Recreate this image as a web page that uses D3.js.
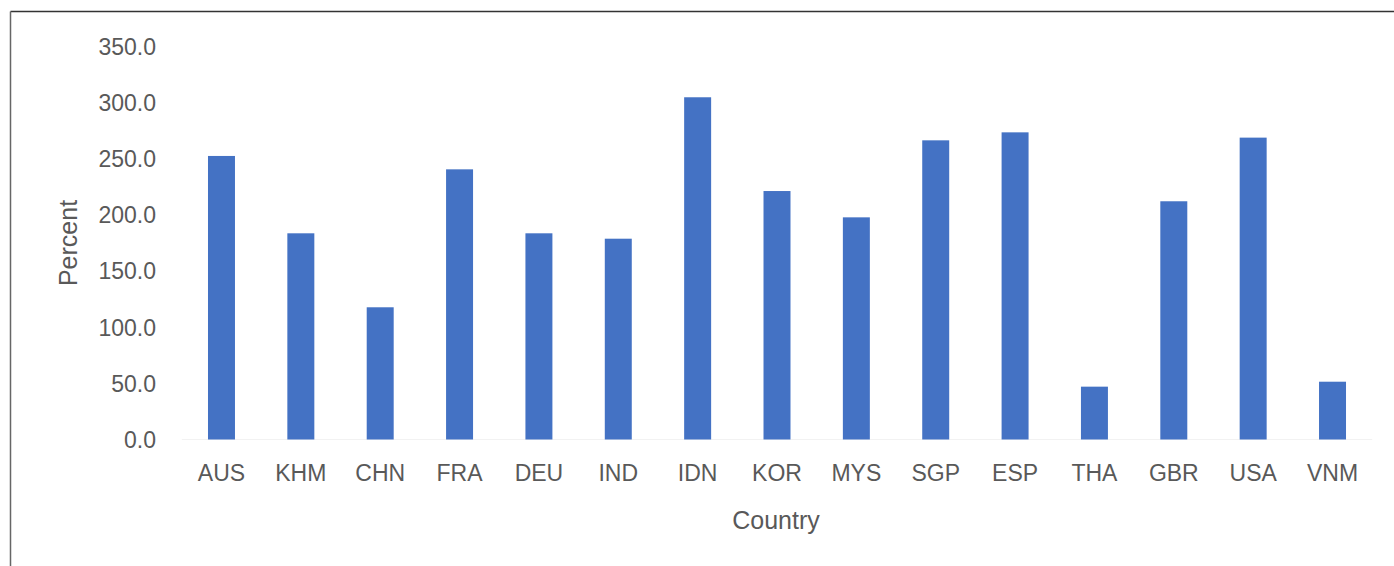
<!DOCTYPE html>
<html>
<head>
<meta charset="utf-8">
<script src="https://cdn.jsdelivr.net/npm/d3@7"></script>
<style>
  html, body { margin: 0; padding: 0; background: #fff; }
  svg { display: block; }
</style>
</head>
<body>
<svg id="chart" width="1394" height="566"></svg>
<script>
const countries = ["AUS","KHM","CHN","FRA","DEU","IND","IDN","KOR","MYS","SGP","ESP","THA","GBR","USA","VNM"];
const percentValues = [252.2, 183.4, 117.6, 240.3, 183.4, 178.6, 304.4, 221.0, 197.6, 266.1, 273.2, 47.0, 211.9, 268.5, 51.4];
const yTicks = [0, 50, 100, 150, 200, 250, 300, 350];
const xTitle = "Country";
const yTitle = "Percent";

const svg = d3.select("#chart");
const W = 1394, H = 566;
const font = "'Liberation Sans', Arial, sans-serif";
const textColor = "#595959";

// frame (top and left edges visible)
svg.append("line").attr("x1", 10.5).attr("x2", W).attr("y1", 11.5).attr("y2", 11.5)
  .attr("stroke", "#333").attr("stroke-width", 1.5);
svg.append("line").attr("x1", 10.5).attr("x2", 10.5).attr("y1", 11.5).attr("y2", H)
  .attr("stroke", "#666").attr("stroke-width", 1.5);

const x = d3.scaleBand().domain(countries).range([181.8, 1372.2]).paddingInner(0.66).paddingOuter(0.33);
const y = d3.scaleLinear().domain([0, 350]).range([439.5, 46]);

// baseline
svg.append("line").attr("x1", 181.8).attr("x2", 1372.2)
  .attr("y1", y(0)).attr("y2", y(0)).attr("stroke", "#f2f2f2").attr("stroke-width", 1);

// bars
svg.append("g").selectAll("rect").data(countries).join("rect")
  .attr("x", d => x(d))
  .attr("width", x.bandwidth())
  .attr("y", (d, i) => y(percentValues[i]))
  .attr("height", (d, i) => y(0) - y(percentValues[i]))
  .attr("fill", "#4472C4");

// y axis
const yAxis = d3.axisLeft(y).tickValues(yTicks).tickFormat(d3.format(".1f")).tickSize(0).tickPadding(0);
const gy = svg.append("g").attr("transform", "translate(156,0)").call(yAxis);
gy.select(".domain").remove();
gy.selectAll("text").attr("font-family", font).attr("font-size", 23).attr("fill", textColor).attr("dy", "0.35em");

// x axis
const xAxis = d3.axisBottom(x).tickSize(0).tickPadding(0);
const gx = svg.append("g").attr("transform", "translate(0,465)").call(xAxis);
gx.select(".domain").remove();
gx.selectAll("text").attr("font-family", font).attr("font-size", 23).attr("fill", textColor).attr("dy", "0.71em");

// axis titles
svg.append("text").attr("x", 776).attr("y", 529).attr("text-anchor", "middle")
  .attr("font-family", font).attr("font-size", 25).attr("fill", textColor).text(xTitle);
svg.append("text").attr("transform", "translate(77,243) rotate(-90)").attr("text-anchor", "middle")
  .attr("font-family", font).attr("font-size", 25).attr("fill", textColor).text(yTitle);
</script>
</body>
</html>
